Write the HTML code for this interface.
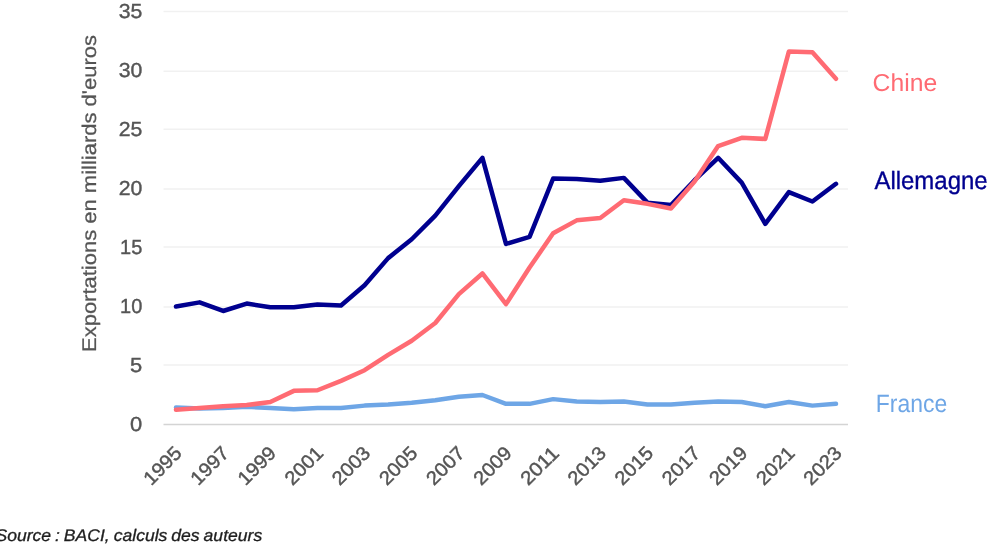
<!DOCTYPE html>
<html lang="fr">
<head>
<meta charset="utf-8">
<title>Exportations en milliards d'euros</title>
<style>
html,body{margin:0;padding:0;background:#fff;}
body{width:999px;height:551px;overflow:hidden;font-family:"Liberation Sans",sans-serif;}
svg{display:block;}
text{font-family:"Liberation Sans",sans-serif;text-rendering:geometricPrecision;}
.ax{fill:#555555;stroke:#555555;stroke-width:0.4px;font-size:20.3px;}
.yt{fill:#555555;stroke:#555555;stroke-width:0.25px;font-size:19.8px;}
.xl{fill:#555555;stroke:#555555;stroke-width:0.45px;font-size:19.3px;}
.src{fill:#1e1e1e;stroke:#1e1e1e;stroke-width:0.3px;font-size:16.8px;font-style:italic;word-spacing:-0.9px;}
.lab{font-size:24.5px;}
</style>
</head>
<body>
<svg width="999" height="551" viewBox="0 0 999 551">
<rect x="0" y="0" width="999" height="551" fill="#ffffff"/>
<g>
<line x1="163.5" x2="848" y1="364.90" y2="364.90" stroke="#f1f1f1" stroke-width="1.5"/>
<line x1="163.5" x2="848" y1="307.00" y2="307.00" stroke="#f1f1f1" stroke-width="1.5"/>
<line x1="163.5" x2="848" y1="247.00" y2="247.00" stroke="#f1f1f1" stroke-width="1.5"/>
<line x1="163.5" x2="848" y1="189.00" y2="189.00" stroke="#f1f1f1" stroke-width="1.5"/>
<line x1="163.5" x2="848" y1="129.20" y2="129.20" stroke="#f1f1f1" stroke-width="1.5"/>
<line x1="163.5" x2="848" y1="71.20" y2="71.20" stroke="#f1f1f1" stroke-width="1.5"/>
<line x1="163.5" x2="848" y1="11.50" y2="11.50" stroke="#f1f1f1" stroke-width="1.5"/>
<line x1="163.5" x2="848" y1="424.50" y2="424.50" stroke="#d4d4d4" stroke-width="1.5"/>
</g>
<g>
<text class="ax" x="142.3" y="431.40" text-anchor="end" textLength="12.2" lengthAdjust="spacingAndGlyphs">0</text>
<text class="ax" x="142.3" y="372.40" text-anchor="end" textLength="12.2" lengthAdjust="spacingAndGlyphs">5</text>
<text class="ax" x="142.3" y="313.40" text-anchor="end" textLength="22.2" lengthAdjust="spacingAndGlyphs">10</text>
<text class="ax" x="142.3" y="254.40" text-anchor="end" textLength="22.2" lengthAdjust="spacingAndGlyphs">15</text>
<text class="ax" x="142.3" y="195.40" text-anchor="end" textLength="23.6" lengthAdjust="spacingAndGlyphs">20</text>
<text class="ax" x="142.3" y="136.40" text-anchor="end" textLength="23.6" lengthAdjust="spacingAndGlyphs">25</text>
<text class="ax" x="142.3" y="77.40" text-anchor="end" textLength="23.6" lengthAdjust="spacingAndGlyphs">30</text>
<text class="ax" x="142.3" y="18.40" text-anchor="end" textLength="23.6" lengthAdjust="spacingAndGlyphs">35</text>
</g>
<text class="yt" transform="translate(96,352) rotate(-90)" textLength="317" lengthAdjust="spacingAndGlyphs">Exportations en milliards d'euros</text>
<g>
<text class="xl" transform="translate(183.00,454.4) rotate(-45)" text-anchor="end" textLength="45" lengthAdjust="spacingAndGlyphs">1995</text>
<text class="xl" transform="translate(230.14,454.4) rotate(-45)" text-anchor="end" textLength="45" lengthAdjust="spacingAndGlyphs">1997</text>
<text class="xl" transform="translate(277.28,454.4) rotate(-45)" text-anchor="end" textLength="45" lengthAdjust="spacingAndGlyphs">1999</text>
<text class="xl" transform="translate(324.43,454.4) rotate(-45)" text-anchor="end" textLength="45" lengthAdjust="spacingAndGlyphs">2001</text>
<text class="xl" transform="translate(371.57,454.4) rotate(-45)" text-anchor="end" textLength="45" lengthAdjust="spacingAndGlyphs">2003</text>
<text class="xl" transform="translate(418.71,454.4) rotate(-45)" text-anchor="end" textLength="45" lengthAdjust="spacingAndGlyphs">2005</text>
<text class="xl" transform="translate(465.85,454.4) rotate(-45)" text-anchor="end" textLength="45" lengthAdjust="spacingAndGlyphs">2007</text>
<text class="xl" transform="translate(512.99,454.4) rotate(-45)" text-anchor="end" textLength="45" lengthAdjust="spacingAndGlyphs">2009</text>
<text class="xl" transform="translate(560.14,454.4) rotate(-45)" text-anchor="end" textLength="45" lengthAdjust="spacingAndGlyphs">2011</text>
<text class="xl" transform="translate(607.28,454.4) rotate(-45)" text-anchor="end" textLength="45" lengthAdjust="spacingAndGlyphs">2013</text>
<text class="xl" transform="translate(654.42,454.4) rotate(-45)" text-anchor="end" textLength="45" lengthAdjust="spacingAndGlyphs">2015</text>
<text class="xl" transform="translate(701.56,454.4) rotate(-45)" text-anchor="end" textLength="45" lengthAdjust="spacingAndGlyphs">2017</text>
<text class="xl" transform="translate(748.70,454.4) rotate(-45)" text-anchor="end" textLength="45" lengthAdjust="spacingAndGlyphs">2019</text>
<text class="xl" transform="translate(795.85,454.4) rotate(-45)" text-anchor="end" textLength="45" lengthAdjust="spacingAndGlyphs">2021</text>
<text class="xl" transform="translate(842.99,454.4) rotate(-45)" text-anchor="end" textLength="45" lengthAdjust="spacingAndGlyphs">2023</text>
</g>
<g fill="none" stroke-linejoin="round" stroke-linecap="round">
<polyline stroke="#6ea6e6" stroke-width="4.5" points="176.00,407.39 199.57,408.57 223.14,407.98 246.71,406.80 270.28,407.98 293.86,409.16 317.43,407.98 341.00,407.98 364.57,405.62 388.14,404.44 411.71,402.67 435.28,400.31 458.85,396.77 482.42,395.00 505.99,403.85 529.57,403.85 553.14,399.13 576.71,401.49 600.28,402.08 623.85,401.49 647.42,404.44 670.99,404.44 694.56,402.67 718.13,401.49 741.70,402.08 765.28,406.21 788.85,402.08 812.42,405.62 835.99,403.85"/>
<polyline stroke="#00008f" stroke-width="4.5" points="176.00,306.50 199.57,302.37 223.14,310.98 246.71,303.55 270.28,307.33 293.86,307.33 317.43,304.49 341.00,305.56 364.57,285.26 388.14,258.12 411.71,239.24 435.28,215.64 458.85,186.14 482.42,157.82 505.99,243.96 529.57,236.88 553.14,178.47 576.71,179.06 600.28,180.83 623.85,177.88 647.42,202.66 670.99,205.02 694.56,180.24 718.13,157.82 741.70,182.60 765.28,223.90 788.85,192.04 812.42,201.48 835.99,183.78"/>
<polyline stroke="#ff6b73" stroke-width="4.5" points="176.00,409.75 199.57,407.98 223.14,406.21 246.71,405.03 270.28,402.08 293.86,390.87 317.43,390.28 341.00,380.84 364.57,370.22 388.14,354.88 411.71,340.72 435.28,323.02 458.85,294.11 482.42,273.46 505.99,304.14 529.57,267.56 553.14,233.34 576.71,220.36 600.28,218.00 623.85,200.30 647.42,203.84 670.99,208.56 694.56,181.42 718.13,146.02 741.70,137.76 765.28,138.94 788.85,51.62 812.42,52.21 835.99,78.76"/>
</g>
<text class="lab" x="872.6" y="91.3" fill="#ff6b73" textLength="64.6" lengthAdjust="spacingAndGlyphs">Chine</text>
<text class="lab" x="874.4" y="189.3" fill="#00008f" stroke="#00008f" stroke-width="0.35" style="font-size:25px" textLength="113.3" lengthAdjust="spacingAndGlyphs">Allemagne</text>
<text class="lab" x="875.8" y="411.9" fill="#6ea6e6" style="font-size:25px" textLength="71.4" lengthAdjust="spacingAndGlyphs">France</text>
<text class="src" x="-4.6" y="540.9" textLength="266.8" lengthAdjust="spacingAndGlyphs">Source : BACI, calculs des auteurs</text>
</svg>
</body>
</html>
